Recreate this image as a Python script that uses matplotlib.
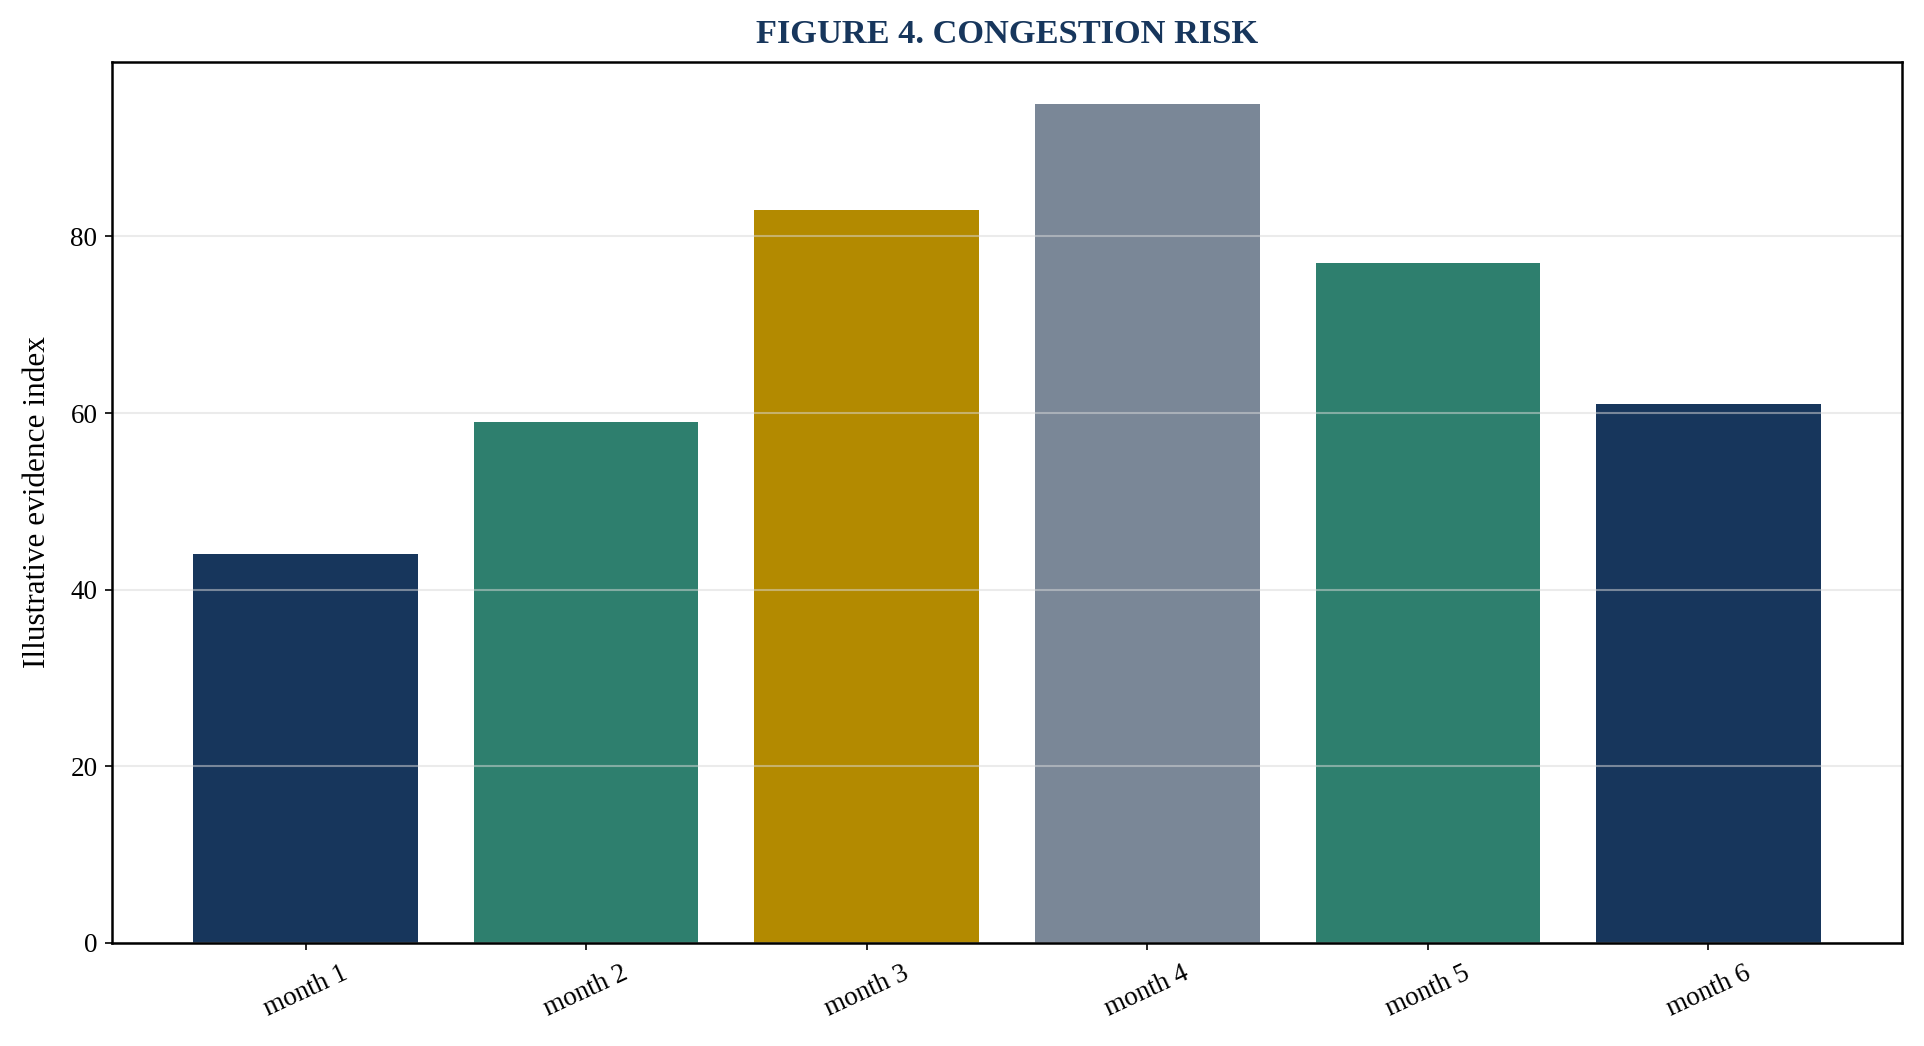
import matplotlib.pyplot as plt

months = ['month 1', 'month 2', 'month 3', 'month 4', 'month 5', 'month 6']
values = [44, 59, 83, 95, 77, 61]
bar_colours = ['#17365c', '#2e7f6e', '#b38a00', '#7a8797', '#2e7f6e', '#17365c']

plt.rcParams['font.family'] = ['Liberation Serif', 'DejaVu Serif']

fig, ax = plt.subplots(figsize=(1924 / 150, 1046 / 150), dpi=150)
fig.subplots_adjust(left=112 / 1924, right=1902 / 1924, top=1 - 62 / 1046, bottom=1 - 943 / 1046)

ax.bar(range(len(months)), values, width=0.8, color=bar_colours)
ax.set_ylim(0, max(values) * 1.05)
ax.set_xticks(range(len(months)))
ax.set_xticklabels(months, rotation=25, fontsize=13)
ax.tick_params(axis='x', pad=5)
ax.tick_params(axis='y', labelsize=13)
ax.set_ylabel('Illustrative evidence index', fontsize=15, labelpad=9)
ax.set_title('FIGURE 4. CONGESTION RISK', fontsize=16.5, fontweight='bold',
             color='#17365c', pad=9)

# light grid, left on top of the bars like the reference
ax.yaxis.grid(True, color='#d9d9d9', alpha=0.5, linewidth=1)
for spine in ax.spines.values():
    spine.set_linewidth(1.2)

fig.savefig('out.png', dpi=150)
